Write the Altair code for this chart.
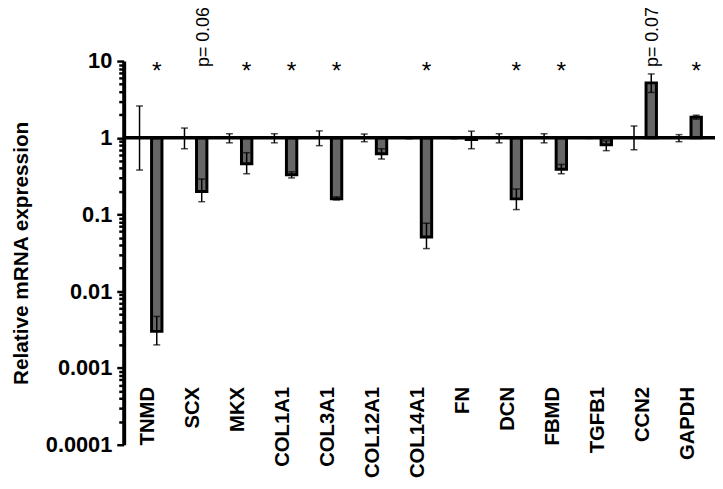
import altair as alt
import pandas as pd

genes = ["TNMD", "SCX", "MKX", "COL1A1", "COL3A1", "COL12A1", "COL14A1",
         "FN", "DCN", "FBMD", "TGFB1", "CCN2", "GAPDH"]

ctrl_mean = [1, 1, 1, 1, 1, 1, 1, 1, 1, 1, 1, 1, 1]
ctrl_lo = [0.38, 0.72, 0.86, 0.86, 0.79, 0.89, 0.97, 0.97, 0.86, 0.86, 0.98, 0.70, 0.89]
ctrl_hi = [2.6, 1.34, 1.13, 1.13, 1.23, 1.12, 1.03, 1.03, 1.13, 1.13, 1.02, 1.42, 1.10]

trt_mean = [0.003, 0.20, 0.46, 0.33, 0.16, 0.62, 0.051, 0.95, 0.16, 0.39, 0.81, 5.2, 1.86]
trt_lo = [0.002, 0.147, 0.34, 0.30, 0.155, 0.53, 0.036, 0.72, 0.116, 0.34, 0.68, 3.9, 1.75]
trt_hi = [0.0047, 0.29, 0.64, 0.36, 0.17, 0.72, 0.077, 1.22, 0.215, 0.45, 0.91, 6.8, 1.97]

annot = ["*", "p= 0.06", "*", "*", "*", "", "*", "", "*", "*", "", "p= 0.07", "*"]

major_ticks = [10, 1, 0.1, 0.01, 0.001, 0.0001]
minor_mult = [2, 3, 4, 5, 6, 7, 8, 9]
minor_ticks = [round(m * d, 6) for d in [0.0001, 0.001, 0.01, 0.1, 1] for m in minor_mult]
tick_values = sorted(major_ticks + minor_ticks)

rows = []
for i, g in enumerate(genes):
    rows.append({"gene": g, "group": "Control", "mean": ctrl_mean[i], "lo": ctrl_lo[i], "hi": ctrl_hi[i]})
    rows.append({"gene": g, "group": "Treated", "mean": trt_mean[i], "lo": trt_lo[i], "hi": trt_hi[i]})
df = pd.DataFrame(rows)

ann_df = pd.DataFrame({"gene": genes, "group": ["Treated"] * len(genes), "annot": annot})
star_df = ann_df[ann_df["annot"] == "*"]
p_df = ann_df[ann_df["annot"].str.startswith("p")]
one_df = pd.DataFrame({"v": [1]})

FONT = "Liberation Sans"
major_js = "[" + ",".join(str(v) for v in major_ticks) + "]"
is_major = f"indexof({major_js}, datum.value) >= 0"

yscale = alt.Scale(type="log", domain=[0.0001, 10], nice=False)

x_enc = alt.X(
    "gene:N", sort=genes, title=None,
    scale=alt.Scale(paddingInner=0, paddingOuter=0),
    axis=alt.Axis(orient="bottom", offset=-59, labelPadding=0, domain=False, ticks=False,
                  labelAngle=270, labelAlign="right", labelBaseline="middle",
                  labelFont=FONT, labelFontSize=20.5, labelFontWeight="bold",
                  labelColor="black"),
)
xoff_enc = alt.XOffset("group:N", sort=["Control", "Treated"],
                       scale=alt.Scale(paddingInner=0.397, paddingOuter=0.503))

y_axis = alt.Axis(
    values=tick_values,
    labelExpr=f"{is_major} ? datum.value : ''",
    tickSize={"condition": {"test": is_major, "value": 7}, "value": 5},
    tickWidth=2.5, tickColor="black", domainWidth=4, domainColor="black",
    offset=2, grid=False, labelPadding=5,
    labelFont=FONT, labelFontSize=22, labelFontWeight="bold", labelColor="black",
    title="Relative mRNA expression", titleFont=FONT, titleFontSize=21,
    titleFontWeight="bold", titleColor="black", titlePadding=14,
)

base = alt.Chart(df)

bars = base.transform_filter(alt.datum.group == "Treated").mark_bar(
    fill="#666666", stroke="black", strokeWidth=3
).encode(
    x=x_enc, xOffset=xoff_enc,
    y=alt.Y("mean:Q", scale=yscale, axis=y_axis),
    y2=alt.datum(1),
)

baseline = alt.Chart(one_df).mark_rule(color="black", strokeWidth=3.5).encode(
    y=alt.Y("v:Q", scale=yscale), x=alt.value(0), x2=alt.value(596)
)

err = base.mark_rule(color="black", strokeWidth=1.5).encode(
    x=x_enc, xOffset=xoff_enc,
    y=alt.Y("lo:Q", scale=yscale), y2="hi:Q",
)
cap_lo = base.mark_tick(color="black", orient="horizontal", size=7, thickness=1.5).encode(
    x=x_enc, xOffset=xoff_enc, y=alt.Y("lo:Q", scale=yscale)
)
cap_hi = base.mark_tick(color="black", orient="horizontal", size=7, thickness=1.5).encode(
    x=x_enc, xOffset=xoff_enc, y=alt.Y("hi:Q", scale=yscale)
)

stars = alt.Chart(star_df).mark_text(
    font=FONT, fontSize=25, color="black", baseline="middle", align="center", dy=10
).encode(
    x=x_enc, xOffset=xoff_enc, y=alt.datum(10), text="annot:N"
)
ptext = alt.Chart(p_df).mark_text(
    font=FONT, fontSize=18, color="black", baseline="middle", align="left",
    angle=270, dx=-6, dy=2
).encode(
    x=x_enc, xOffset=xoff_enc, y=alt.datum(10), text="annot:N"
)

chart = alt.layer(bars, baseline, err, cap_lo, cap_hi, stars, ptext).properties(
    width=591, height=388,
    autosize=alt.AutoSizeParams(type="none"),
    padding={"left": 119, "top": 51, "right": 5, "bottom": 33},
    background="white",
).configure_view(stroke=None)

chart.save("out.html", embed_options={"renderer": "svg", "actions": False})
